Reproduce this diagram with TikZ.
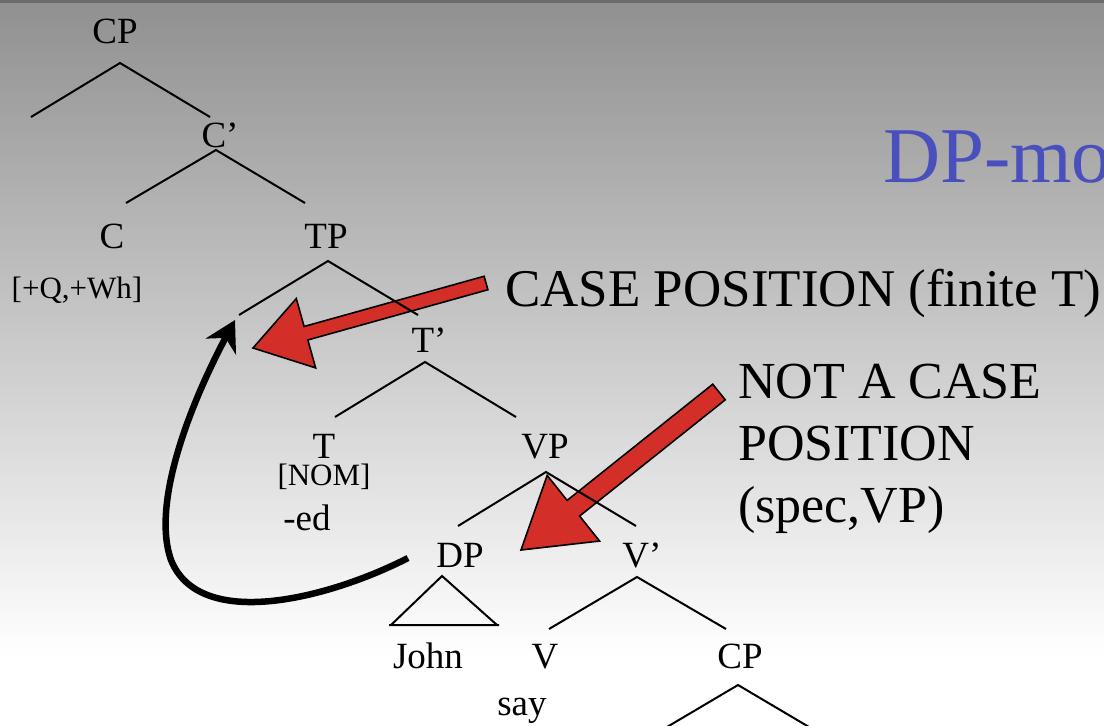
\documentclass[tikz,border=0pt]{standalone}
\usepackage{fontspec}
\setmainfont{Liberation Serif}
\usetikzlibrary{arrows.meta,calc}
\definecolor{slidered}{RGB}{211,46,39}
\definecolor{slideblue}{RGB}{74,79,190}
\definecolor{slidetop}{RGB}{144,144,144}
\tikzset{lab/.style={anchor=base,inner sep=0pt,font=\fontsize{37}{40}\selectfont},
feat/.style={anchor=base,inner sep=0pt,font=\fontsize{31}{34}\selectfont},
callout/.style={anchor=north west,inner sep=0pt,align=left,font=\fontsize{52}{62}\selectfont},
branch/.style={line width=2pt},
redarrow/.style={fill=slidered,draw=black,line width=1.6pt,line join=miter}}
% tail, tip, half shaft, head length, half head
\newcommand\bigredarrow[5]{%
\path ($(#2)!#4!(#1)$) coordinate (hb);
\filldraw[redarrow] ($(#1)!#3!90:(#2)$) -- ($(hb)!#3!90:(#2)$) -- ($(hb)!#5!90:(#2)$) -- (#2)
-- ($(hb)!#5!-90:(#2)$) -- ($(hb)!#3!-90:(#2)$) -- ($(#1)!#3!-90:(#2)$) -- cycle;}
\begin{document}
\begin{tikzpicture}[x=1pt,y=-1pt]
\path[use as bounding box](0,0)rectangle(1104,726);
\clip(0,0)rectangle(1104,726);
% background
\shade[top color=slidetop,bottom color=white](0,0)rectangle(1104,656);
\fill[white](0,655)rectangle(1104,726);
\fill[black!58](0,0)rectangle(1104,2.5);
\node[anchor=base west,inner sep=0pt,text=slideblue,font=\fontsize{79}{90}\selectfont](title)at(883,182){DP-mo};
% labels
\node[lab](CP)at(115,43){CP};
\node[lab](Cbar)at(220,147){C’};
\node[lab](C)at(112,248){C};
\node[lab](TP)at(326,248){TP};
\node[feat](QWh)at(77,298){[+Q,+Wh]};
\node[lab](Tbar)at(429,352){T’};
\node[lab](T)at(324,458){T};
\node[feat](NOM)at(324,485){[NOM]};
\node[lab](ed)at(307,530){-ed};
\node[lab](VP)at(545,458){VP};
\node[lab](DP)at(460,567){DP};
\node[lab](Vbar)at(642,567){V’};
\node[lab](John)at(428,668){John};
\node[lab](V)at(545,668){V};
\node[lab](CPb)at(740,668){CP};
\node[lab](say)at(522,715){say};
\node[callout,font=\fontsize{53}{62}\selectfont](casepos)at(505,269){CASE POSITION (finite T)};
\node[callout](notcase)at(738,364){NOT A CASE\\POSITION\\(spec,VP)};
% branch points
\coordinate(cpA)at(120,63);\coordinate(specCP)at(31,117);\coordinate(cbarT)at(210,117);
\coordinate(cbarA)at(216,150);\coordinate(cT)at(126,203);\coordinate(tpT)at(305,203);
\coordinate(tpA)at(328,261);\coordinate(specTP)at(239,315);\coordinate(tbarT)at(418,315);
\coordinate(tbarA)at(425,362);\coordinate(tT)at(335,417);\coordinate(vpT)at(516,417);
\coordinate(vpA)at(546,472);\coordinate(dpT)at(458,526);\coordinate(vbarT)at(636,526);
\coordinate(vbarA)at(637,577);\coordinate(vT)at(549,629);\coordinate(cpbT)at(726,629);
\coordinate(dpA)at(442,576);\coordinate(johnL)at(389,625);\coordinate(johnR)at(499,625);
\coordinate(cpbA)at(738,685);\coordinate(cpbL)at(645,740);\coordinate(cpbR)at(831,740);
% red arrows
\coordinate(casetail)at(486,283);\coordinate(casetip)at(253,348);
\coordinate(notcasetail)at(719,392);\coordinate(notcasetip)at(521,550);
\bigredarrow{casetail}{casetip}{7pt}{55pt}{36pt}
\bigredarrow{notcasetail}{notcasetip}{10pt}{67pt}{42pt}
% tree
\draw[branch](specCP)--(cpA)--(cbarT);
\draw[branch](cT)--(cbarA)--(tpT);
\draw[branch](specTP)--(tpA)--(tbarT);
\draw[branch](tT)--(tbarA)--(vpT);
\draw[branch](dpT)--(vpA)--(vbarT);
\draw[branch](vT)--(vbarA)--(cpbT);
\draw[branch](cpbL)--(cpbA)--(cpbR);
\draw[branch]($(johnL)+(2,0)$)--(dpA)--($(johnR)+(-2,0)$)(johnL)--(johnR);
% movement
\coordinate(dpmove)at(408,558);\coordinate(movetip)at(235,320);
\draw[line width=6.5pt,-{Stealth[length=30pt,width=34pt]}](dpmove)..controls(330,598)and(200,632)..(171,560)..controls(150,500)and(195,395)..(movetip);
\end{tikzpicture}
\end{document}
